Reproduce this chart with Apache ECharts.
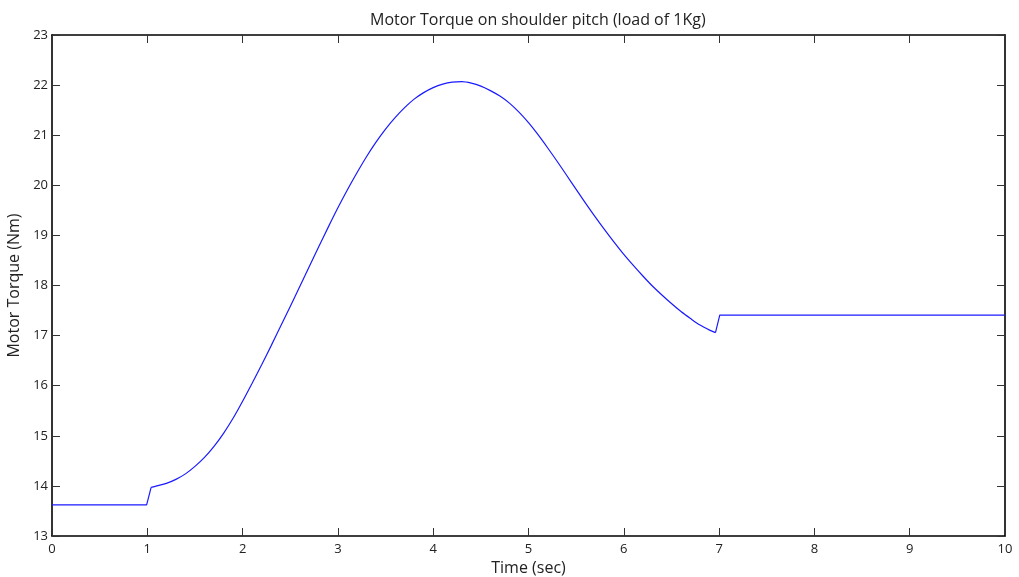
<!DOCTYPE html>
<html>
<head>
<meta charset="utf-8">
<script src="https://cdn.jsdelivr.net/npm/echarts@6/dist/echarts.min.js"></script>
<style>
  html, body { margin: 0; padding: 0; background: #fff; }
  #chart { width: 1019px; height: 577px; }
</style>
</head>
<body>
<div id="chart"></div>
<script>
// Motor torque on the shoulder pitch joint, 1 kg load
const chartTitle = 'Motor Torque on shoulder pitch (load of 1Kg)';
const xName = 'Time (sec)';
const yName = 'Motor Torque (Nm)';

// Hold phase before motion starts
const holdTime = [0, 0.993, 1.04];
const holdTorque = [13.62, 13.62, 13.97];

// Motion phase (sampled every 0.1 s)
const motionTime = [1.04, 1.1, 1.2, 1.3, 1.4, 1.5, 1.6, 1.7, 1.8, 1.9, 2.0,
  2.1, 2.2, 2.3, 2.4, 2.5, 2.6, 2.7, 2.8, 2.9, 3.0,
  3.1, 3.2, 3.3, 3.4, 3.5, 3.6, 3.7, 3.8, 3.9, 4.0,
  4.1, 4.2, 4.3, 4.4, 4.5, 4.6, 4.7, 4.8, 4.9, 5.0,
  5.1, 5.2, 5.3, 5.4, 5.5, 5.6, 5.7, 5.8, 5.9, 6.0,
  6.1, 6.2, 6.3, 6.4, 6.5, 6.6, 6.7, 6.8, 6.9, 6.962];
const motionTorque = [13.97, 14.00, 14.05, 14.13, 14.24, 14.39, 14.57, 14.79, 15.05, 15.35, 15.69,
  16.05, 16.42, 16.80, 17.19, 17.58, 17.98, 18.38, 18.78, 19.17, 19.55,
  19.91, 20.25, 20.57, 20.86, 21.12, 21.35, 21.55, 21.72, 21.85, 21.95,
  22.02, 22.06, 22.07, 22.04, 21.98, 21.89, 21.78, 21.64, 21.46, 21.25,
  21.01, 20.75, 20.48, 20.20, 19.92, 19.64, 19.37, 19.11, 18.86, 18.62,
  18.40, 18.19, 17.99, 17.81, 17.64, 17.48, 17.34, 17.21, 17.11, 17.06];

// Final hold after motion ends
const endTime = [6.962, 7.007, 10];
const endTorque = [17.06, 17.41, 17.41];

const xTicks = [0, 1, 2, 3, 4, 5, 6, 7, 8, 9, 10];
const yTicks = [13, 14, 15, 16, 17, 18, 19, 20, 21, 22, 23];

const pairs = (xs, ys) => xs.map((x, i) => [x, ys[i]]);

const font = '"Open Sans", "DejaVu Sans", sans-serif';
const lineColor = '#1a1aff';

const chart = echarts.init(document.getElementById('chart'), null, { renderer: 'canvas' });

const axisBase = {
  type: 'value',
  axisLine: { show: true, onZero: false, lineStyle: { color: '#000', width: 1.6 } },
  axisTick: { show: true, inside: true, length: 8, lineStyle: { color: '#333', width: 1 } },
  splitLine: { show: false }
};

chart.setOption({
  animation: false,
  backgroundColor: '#fff',
  title: {
    text: chartTitle,
    left: 365,
    top: 7,
    textStyle: { fontFamily: font, fontSize: 16, fontWeight: 'normal', color: '#222' }
  },
  grid: { left: 52, right: 14, top: 35, bottom: 41, containLabel: false, outerBoundsMode: 'none' },
  xAxis: [
    Object.assign({}, axisBase, {
      position: 'bottom',
      min: xTicks[0], max: xTicks[xTicks.length - 1], interval: 1,
      name: xName, nameLocation: 'middle', nameGap: 20,
      nameTextStyle: { fontFamily: font, fontSize: 16, color: '#222' },
      axisLabel: { margin: 7, fontFamily: font, fontSize: 13, color: '#222' }
    }),
    Object.assign({}, axisBase, {
      position: 'top',
      min: xTicks[0], max: xTicks[xTicks.length - 1], interval: 1,
      axisLabel: { show: false }
    })
  ],
  yAxis: [
    Object.assign({}, axisBase, {
      position: 'left',
      min: yTicks[0], max: yTicks[yTicks.length - 1], interval: 1,
      name: yName, nameLocation: 'middle', nameGap: 24, nameRotate: 90,
      nameTextStyle: { fontFamily: font, fontSize: 16, color: '#222' },
      axisLabel: { margin: 4, fontFamily: font, fontSize: 13, color: '#222' }
    }),
    Object.assign({}, axisBase, {
      position: 'right',
      min: yTicks[0], max: yTicks[yTicks.length - 1], interval: 1,
      axisLabel: { show: false }
    })
  ],
  series: [
    {
      name: 'Torque', type: 'line', showSymbol: false,
      data: pairs(holdTime, holdTorque),
      lineStyle: { color: lineColor, width: 1.2 }
    },
    {
      name: 'Torque', type: 'line', showSymbol: false, smooth: 0.3,
      data: pairs(motionTime, motionTorque),
      lineStyle: { color: lineColor, width: 1.2 }
    },
    {
      name: 'Torque', type: 'line', showSymbol: false,
      data: pairs(endTime, endTorque),
      lineStyle: { color: lineColor, width: 1.2 }
    }
  ]
});
</script>
</body>
</html>
